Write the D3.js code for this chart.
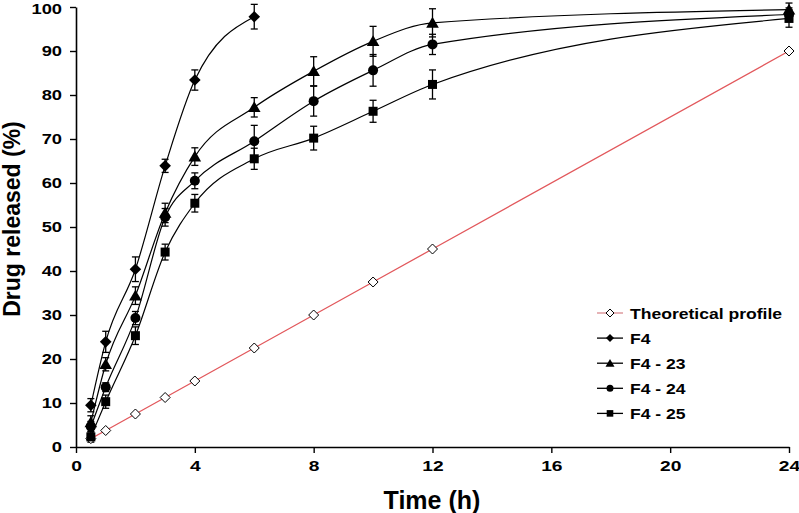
<!DOCTYPE html>
<html>
<head>
<meta charset="utf-8">
<script src="https://cdn.jsdelivr.net/npm/d3@7"></script>
<style>
  html, body { margin: 0; padding: 0; background: #fff; }
  svg { display: block; }
  text { font-family: "Liberation Sans", Arial, sans-serif; font-weight: bold; fill: #000; }
</style>
</head>
<body>
<svg id="chart" width="799" height="513"></svg>
<script>
// ---------------- data ----------------
const timesAll = [0.5, 1, 2, 3, 4, 6, 8, 10, 12, 24];
const timesF4 = [0.5, 1, 2, 3, 4, 6];

const theoretical = [1.9, 3.75, 7.5, 11.25, 15, 22.5, 30, 37.5, 45, 90];

const f4 = [9.5, 23.9, 40.4, 63.9, 83.4, 97.8];
const f4Err = [1.5, 2.4, 2.8, 1.5, 2.3, 2.8];

const f4_23 = [5.6, 18.8, 34.4, 53.2, 66.0, 77.2, 85.4, 92.2, 96.4, 99.4];
const f4_23Err = [1.5, 1.5, 2.0, 2.2, 2.0, 2.2, 3.3, 3.4, 3.2, 1.5];

const f4_24 = [4.6, 13.6, 29.3, 52.2, 60.5, 69.5, 78.6, 85.6, 91.5, 98.3];
const f4_24Err = [1.2, 1.0, 1.5, 2.0, 1.8, 3.6, 3.4, 3.6, 2.3, 1.5];

const f4_25 = [2.3, 10.3, 25.3, 44.3, 55.4, 65.5, 70.2, 76.3, 82.4, 97.4];
const f4_25Err = [1.2, 1.5, 2.0, 1.8, 2.0, 2.4, 2.7, 2.5, 3.3, 2.0];

const xTicks = [0, 4, 8, 12, 16, 20, 24];
const yTicks = [0, 10, 20, 30, 40, 50, 60, 70, 80, 90, 100];

const seriesNames = ["Theoretical profile", "F4", "F4 - 23", "F4 - 24", "F4 - 25"];
const xLabel = "Time (h)";
const yLabel = "Drug released (%)";

// ---------------- layout ----------------
const margin = { left: 76, top: 7, right: 10, bottom: 66 };
const plotW = 789 - margin.left;
const plotH = 447 - margin.top;

const svg = d3.select("#chart");
const g = svg.append("g").attr("transform", `translate(${margin.left},${margin.top})`);

const x = d3.scaleLinear().domain([0, 24]).range([0, plotW]);
const y = d3.scaleLinear().domain([0, 100]).range([plotH, 0]);

function stretch(sel, k) {
  sel.each(function () {
    const L = this.getComputedTextLength();
    this.setAttribute("textLength", L * k);
    this.setAttribute("lengthAdjust", "spacingAndGlyphs");
  });
}

// ---------------- axes ----------------
const xAxis = g.append("g")
  .attr("transform", `translate(0,${plotH})`)
  .call(d3.axisBottom(x).tickValues(xTicks).tickSize(6).tickPadding(7).tickSizeOuter(0));
const yAxis = g.append("g")
  .call(d3.axisLeft(y).tickValues(yTicks).tickSize(6).tickPadding(8).tickSizeOuter(0));

[xAxis, yAxis].forEach(a => {
  a.select(".domain").attr("stroke", "#000").attr("stroke-width", 1.6);
  a.selectAll(".tick line").attr("stroke", "#000").attr("stroke-width", 1.4);
  a.selectAll(".tick text").attr("font-size", 15).attr("font-family", "Liberation Sans, Arial, sans-serif")
    .attr("font-weight", "bold").attr("fill", "#000");
});
// keep the top label fully inside the picture
yAxis.selectAll(".tick text").filter(d => d === 100).attr("dy", "0.46em");
stretch(xAxis.selectAll(".tick text"), 1.28);
stretch(yAxis.selectAll(".tick text"), 1.22);

// axis titles
svg.append("text").attr("x", 432).attr("y", 509).attr("text-anchor", "middle")
  .attr("font-size", 25).text(xLabel);
svg.append("text").attr("transform", "translate(20,219) rotate(-90)").attr("text-anchor", "middle")
  .attr("font-size", 23).text(yLabel);

// ---------------- marker shapes ----------------
function markerPath(type, s) {
  const p = d3.path();
  if (type === "diamond") {
    p.moveTo(0, -s); p.lineTo(s, 0); p.lineTo(0, s); p.lineTo(-s, 0); p.closePath();
  } else if (type === "triangle") {
    p.moveTo(0, -s); p.lineTo(s * 1.05, s * 0.8); p.lineTo(-s * 1.05, s * 0.8); p.closePath();
  } else if (type === "circle") {
    p.arc(0, 0, s, 0, 2 * Math.PI); p.closePath();
  } else if (type === "square") {
    p.rect(-s, -s, 2 * s, 2 * s);
  }
  return p.toString();
}

const line = d3.line().x(d => x(d.t)).y(d => y(d.v)).curve(d3.curveMonotoneX);

const series = [
  { name: seriesNames[4], times: timesAll, vals: f4_25, err: f4_25Err, shape: "square", size: 4.5 },
  { name: seriesNames[3], times: timesAll, vals: f4_24, err: f4_24Err, shape: "circle", size: 5 },
  { name: seriesNames[2], times: timesAll, vals: f4_23, err: f4_23Err, shape: "triangle", size: 6 },
  { name: seriesNames[1], times: timesF4, vals: f4, err: f4Err, shape: "diamond", size: 5.8 },
];

// theoretical line
const theoData = timesAll.map((t, i) => ({ t, v: theoretical[i] }));
g.append("path").datum(theoData)
  .attr("d", d3.line().x(d => x(d.t)).y(d => y(d.v)))
  .attr("fill", "none").attr("stroke", "#e2585c").attr("stroke-width", 1.3);

// series lines
series.forEach(s => {
  const data = s.times.map((t, i) => ({ t, v: s.vals[i], e: s.err[i] }));
  s.data = data;
  g.append("path").datum(data).attr("d", line)
    .attr("fill", "none").attr("stroke", "#000").attr("stroke-width", 1.2);
});

// error bars
series.forEach(s => {
  const eb = g.append("g").attr("stroke", "#000").attr("stroke-width", 1.3);
  s.data.forEach(d => {
    eb.append("line").attr("x1", x(d.t)).attr("x2", x(d.t)).attr("y1", y(d.v - d.e)).attr("y2", y(d.v + d.e));
    eb.append("line").attr("x1", x(d.t) - 3.5).attr("x2", x(d.t) + 3.5).attr("y1", y(d.v - d.e)).attr("y2", y(d.v - d.e));
    eb.append("line").attr("x1", x(d.t) - 3.5).attr("x2", x(d.t) + 3.5).attr("y1", y(d.v + d.e)).attr("y2", y(d.v + d.e));
  });
});

// markers
g.selectAll(".theo").data(theoData).enter().append("path")
  .attr("transform", d => `translate(${x(d.t)},${y(d.v)})`)
  .attr("d", markerPath("diamond", 5))
  .attr("fill", "#fff").attr("stroke", "#000").attr("stroke-width", 1);

series.forEach(s => {
  g.selectAll(null).data(s.data).enter().append("path")
    .attr("transform", d => `translate(${x(d.t)},${y(d.v)})`)
    .attr("d", markerPath(s.shape, s.size))
    .attr("fill", "#000");
});

// ---------------- legend ----------------
const legendItems = [
  { name: seriesNames[0], shape: "diamond", size: 4, open: true, color: "#d98a8e" },
  { name: seriesNames[1], shape: "diamond", size: 4, color: "#000" },
  { name: seriesNames[2], shape: "triangle", size: 4.3, color: "#000" },
  { name: seriesNames[3], shape: "circle", size: 3.5, color: "#000" },
  { name: seriesNames[4], shape: "square", size: 3.3, color: "#000" },
];
const lg = svg.append("g").attr("transform", "translate(597,313)");
legendItems.forEach((it, i) => {
  const row = lg.append("g").attr("transform", `translate(0,${i * 25.1})`);
  row.append("line").attr("x1", 0).attr("x2", 26).attr("y1", 0).attr("y2", 0)
    .attr("stroke", it.color).attr("stroke-width", 1.3);
  row.append("path").attr("transform", "translate(13,0)").attr("d", markerPath(it.shape, it.size))
    .attr("fill", it.open ? "#fff" : "#000").attr("stroke", "#000").attr("stroke-width", it.open ? 1 : 0);
  const t = row.append("text").attr("x", 33).attr("y", 5.5).attr("font-size", 15).text(it.name);
  stretch(t, 1.17);
});
</script>
</body>
</html>
